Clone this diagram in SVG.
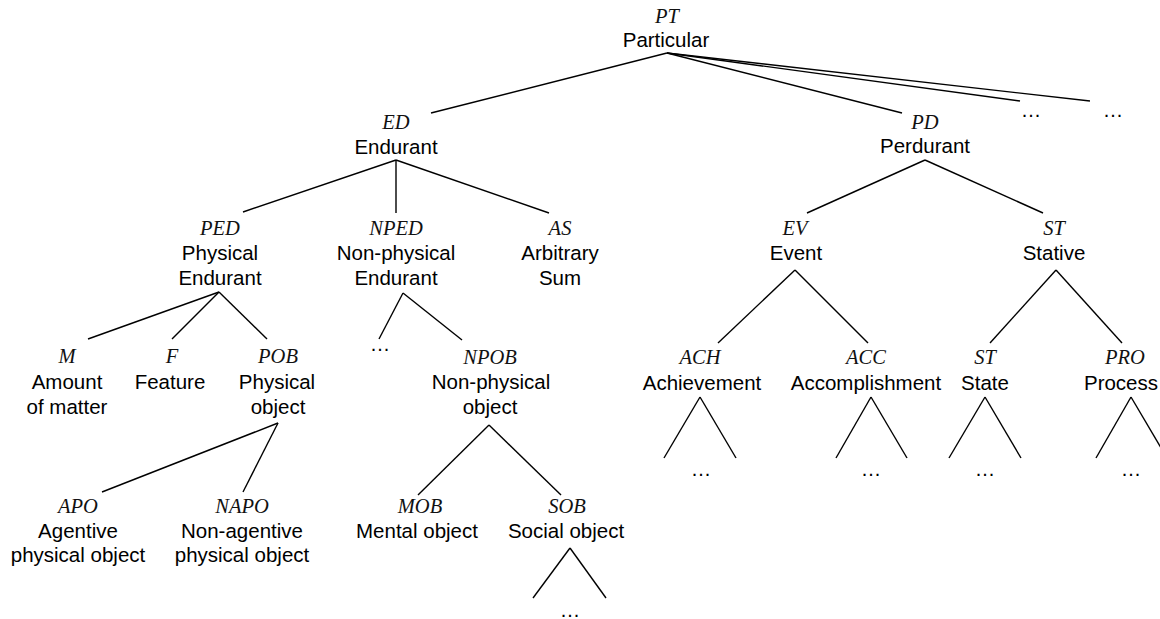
<svg xmlns="http://www.w3.org/2000/svg" width="1160" height="619" viewBox="0 0 1160 619">
<style>
.ab{font-family:"Liberation Serif","Times New Roman",serif;font-style:italic;font-size:20.5px;fill:#111;text-anchor:middle}
.lb{font-family:"Liberation Sans",Arial,sans-serif;font-size:20.5px;fill:#000;text-anchor:middle}
.e{stroke:#000;stroke-width:1.4;fill:none}
</style>
<rect width="1160" height="619" fill="#fff"/>
<g id="connectors">
<line class="e" x1="667" y1="53" x2="431" y2="113"/>
<line class="e" x1="667" y1="53" x2="902" y2="113"/>
<line class="e" x1="667" y1="53" x2="1020" y2="101"/>
<line class="e" x1="667" y1="53" x2="1090" y2="101"/>
<line class="e" x1="396" y1="160" x2="243" y2="212"/>
<line class="e" x1="396" y1="160" x2="396" y2="213"/>
<line class="e" x1="396" y1="160" x2="549" y2="213"/>
<line class="e" x1="219" y1="292" x2="88" y2="339"/>
<line class="e" x1="219" y1="292" x2="172" y2="339"/>
<line class="e" x1="219" y1="292" x2="267" y2="339"/>
<line class="e" x1="278" y1="423" x2="102" y2="492"/>
<line class="e" x1="278" y1="423" x2="243" y2="492"/>
<line class="e" x1="403" y1="293" x2="379" y2="339"/>
<line class="e" x1="403" y1="293" x2="462" y2="340"/>
<line class="e" x1="489" y1="425" x2="418" y2="495"/>
<line class="e" x1="489" y1="425" x2="561" y2="495"/>
<line class="e" x1="570" y1="548" x2="533" y2="598"/>
<line class="e" x1="570" y1="548" x2="606" y2="598"/>
<line class="e" x1="925" y1="160" x2="807" y2="213"/>
<line class="e" x1="925" y1="160" x2="1043" y2="213"/>
<line class="e" x1="795" y1="270" x2="718" y2="343"/>
<line class="e" x1="795" y1="270" x2="868" y2="343"/>
<line class="e" x1="1056" y1="270" x2="990" y2="343"/>
<line class="e" x1="1056" y1="270" x2="1122" y2="343"/>
<line class="e" x1="700" y1="397" x2="664" y2="458"/>
<line class="e" x1="700" y1="397" x2="736" y2="458"/>
<line class="e" x1="871" y1="397" x2="836" y2="458"/>
<line class="e" x1="871" y1="397" x2="907" y2="458"/>
<line class="e" x1="985" y1="397" x2="949" y2="458"/>
<line class="e" x1="985" y1="397" x2="1021" y2="458"/>
<line class="e" x1="1131" y1="397" x2="1096" y2="458"/>
<line class="e" x1="1131" y1="397" x2="1167" y2="458"/>
</g>
<g id="PT"><text class="ab" x="667" y="23">PT</text><text class="lb" x="666" y="47">Particular</text></g>
<g id="dots1"><text class="lb" x="1031" y="117">…</text></g>
<g id="dots2"><text class="lb" x="1113" y="117">…</text></g>
<g id="ED"><text class="ab" x="396" y="129">ED</text><text class="lb" x="396" y="154">Endurant</text></g>
<g id="PD"><text class="ab" x="925" y="129">PD</text><text class="lb" x="925" y="153">Perdurant</text></g>
<g id="PED"><text class="ab" x="220" y="235">PED</text><text class="lb" x="220" y="260">Physical</text><text class="lb" x="220" y="285">Endurant</text></g>
<g id="NPED"><text class="ab" x="396" y="235">NPED</text><text class="lb" x="396" y="260">Non-physical</text><text class="lb" x="396" y="285">Endurant</text></g>
<g id="AS"><text class="ab" x="560" y="235">AS</text><text class="lb" x="560" y="260">Arbitrary</text><text class="lb" x="560" y="285">Sum</text></g>
<g id="EV"><text class="ab" x="795" y="235">EV</text><text class="lb" x="796" y="260">Event</text></g>
<g id="ST1"><text class="ab" x="1054" y="235">ST</text><text class="lb" x="1054" y="260">Stative</text></g>
<g id="M"><text class="ab" x="67" y="363">M</text><text class="lb" x="67" y="389">Amount</text><text class="lb" x="67" y="414">of matter</text></g>
<g id="F"><text class="ab" x="172" y="363">F</text><text class="lb" x="170" y="389">Feature</text></g>
<g id="POB"><text class="ab" x="278" y="363">POB</text><text class="lb" x="277" y="389">Physical</text><text class="lb" x="278" y="414">object</text></g>
<g id="dots3"><text class="lb" x="380" y="351">…</text></g>
<g id="NPOB"><text class="ab" x="490" y="364">NPOB</text><text class="lb" x="491" y="389">Non-physical</text><text class="lb" x="490" y="414">object</text></g>
<g id="ACH"><text class="ab" x="700" y="364">ACH</text><text class="lb" x="702" y="390">Achievement</text></g>
<g id="ACC"><text class="ab" x="866" y="364">ACC</text><text class="lb" x="866" y="390">Accomplishment</text></g>
<g id="ST2"><text class="ab" x="985" y="364">ST</text><text class="lb" x="985" y="390">State</text></g>
<g id="PRO"><text class="ab" x="1125" y="364">PRO</text><text class="lb" x="1121" y="390">Process</text></g>
<g id="dots4"><text class="lb" x="701" y="476">…</text></g>
<g id="dots5"><text class="lb" x="871" y="476">…</text></g>
<g id="dots6"><text class="lb" x="985" y="476">…</text></g>
<g id="dots7"><text class="lb" x="1131" y="476">…</text></g>
<g id="APO"><text class="ab" x="78" y="513">APO</text><text class="lb" x="78" y="538">Agentive</text><text class="lb" x="78" y="562">physical object</text></g>
<g id="NAPO"><text class="ab" x="242" y="513">NAPO</text><text class="lb" x="242" y="538">Non-agentive</text><text class="lb" x="242" y="562">physical object</text></g>
<g id="MOB"><text class="ab" x="420" y="513">MOB</text><text class="lb" x="417" y="538">Mental object</text></g>
<g id="SOB"><text class="ab" x="567" y="513">SOB</text><text class="lb" x="566" y="538">Social object</text></g>
<g id="dots8"><text class="lb" x="570" y="617">…</text></g>
</svg>
